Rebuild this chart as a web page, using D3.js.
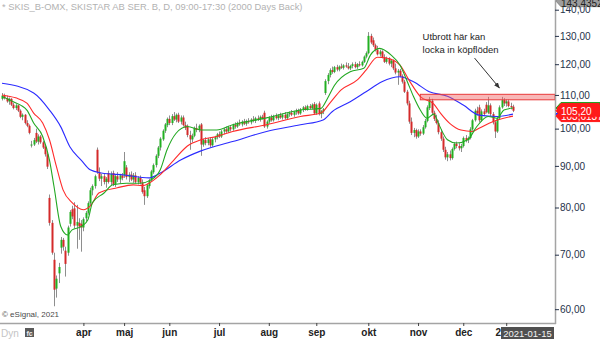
<!DOCTYPE html>
<html>
<head>
<meta charset="utf-8">
<script src="https://cdn.jsdelivr.net/npm/d3@7/dist/d3.min.js"></script>
<style>
  html, body { margin: 0; padding: 0; background: #fff; }
  svg { display: block; font-family: "Liberation Sans", Arial, Helvetica, sans-serif; }
</style>
</head>
<body>
<svg id="chart" width="600" height="339"></svg>
<script>
// SkiStar B, daily candles (SEK)
const open = [
  108.8,109.8,109.0,108.0,108.8,107.0,106.0,106.8,105.2,103.4,
  104.0,101.6,100.8,95.4,95.6,98.8,96.4,97.8,96.2,95.0,
  93.0,82.2,76.6,69.0,63.6,66.4,71.4,73.0,70.8,70.4,
  76.4,79.6,79.8,76.0,76.6,76.4,75.6,77.6,78.8,81.0,
  84.0,85.0,94.2,88.4,86.8,87.4,86.0,88.2,86.0,88.2,
  85.4,87.4,86.6,87.6,87.6,89.6,87.2,87.8,86.6,87.6,
  86.0,87.0,85.8,84.0,82.6,85.0,86.4,88.4,90.2,92.6,
  94.8,97.0,99.4,101.0,102.8,101.6,103.6,102.6,104.0,102.0,
  103.2,101.0,100.8,98.2,97.0,98.0,100.2,99.6,101.2,95.6,
  96.8,96.0,97.0,95.4,97.0,97.6,98.4,97.8,99.2,99.8,
  99.2,100.4,99.8,101.0,100.6,101.6,101.2,102.0,101.4,102.2,
  101.8,102.6,102.2,103.0,102.6,103.4,104.6,100.6,102.0,103.2,
  102.4,103.6,103.0,103.8,103.2,104.0,103.0,104.2,104.6,104.0,
  104.8,105.2,104.4,105.6,106.2,105.6,106.6,106.0,107.2,104.4,
  107.4,104.2,105.0,110.6,114.4,116.4,118.0,117.4,119.0,118.2,
  119.2,118.8,119.6,119.2,118.6,119.4,120.0,119.0,120.0,119.6,
  120.8,122.6,123.8,130.0,128.4,126.6,125.0,123.4,124.4,122.4,
  120.8,122.0,120.2,121.2,118.6,117.2,117.8,116.0,114.2,111.0,
  107.4,102.0,98.8,99.6,97.8,99.2,98.6,100.4,102.2,106.0,
  108.2,104.6,102.8,101.6,99.0,97.2,94.2,92.2,93.0,92.0,
  94.4,95.8,95.2,94.6,95.2,97.4,96.8,97.4,99.8,102.4,
  105.2,106.2,102.4,105.0,107.0,104.6,106.8,104.2,101.8,99.2,
  103.0,106.2,108.4,107.4,108.0,106.6,106.4
];
const high = [
  110.6,110.4,109.8,109.2,109.0,107.6,107.2,107.0,105.6,104.4,
  104.2,102.4,101.2,96.6,97.4,100.0,98.4,98.2,96.6,95.4,
  93.4,83.0,77.2,70.4,66.0,68.4,73.6,73.4,71.6,76.0,
  79.4,80.4,81.2,80.6,77.6,77.2,77.8,79.2,81.4,84.6,
  85.4,87.8,94.8,89.6,88.0,88.2,87.2,88.8,88.6,88.8,
  87.8,88.4,88.0,88.2,93.6,90.2,88.4,88.6,88.2,88.4,
  87.4,87.6,86.6,84.8,85.6,86.8,89.0,90.6,93.0,95.2,
  97.6,99.8,101.6,103.2,103.8,104.2,104.8,104.4,104.6,103.8,
  103.8,102.0,101.2,99.4,98.6,100.6,101.4,101.2,101.6,97.2,
  97.6,97.4,97.6,97.4,98.0,98.8,99.2,99.6,100.2,100.6,
  100.8,101.0,101.4,101.8,102.0,102.6,102.4,102.8,102.6,103.0,
  103.0,103.6,103.4,103.8,103.8,104.0,105.2,102.4,103.6,104.0,
  104.0,104.4,104.2,104.6,104.4,104.8,104.6,105.0,105.4,105.2,
  105.8,105.8,106.0,106.6,106.8,107.0,107.2,107.4,107.8,107.4,
  108.0,105.4,106.0,115.0,117.0,118.6,119.2,119.4,119.8,119.6,
  120.2,120.0,120.6,120.4,119.8,120.6,120.8,120.4,121.0,121.2,
  123.0,124.4,131.4,130.8,129.4,127.2,126.4,125.0,124.8,123.4,
  122.6,122.4,121.8,121.6,120.2,118.4,118.4,116.6,114.8,111.6,
  108.2,103.2,100.2,100.0,99.8,99.8,101.0,102.8,106.8,109.4,
  108.8,105.2,104.0,102.4,99.8,97.8,95.0,93.6,94.0,94.8,
  96.2,96.4,96.0,95.8,97.8,98.2,97.8,100.4,102.8,105.8,
  106.4,107.0,105.6,105.8,107.8,109.4,107.4,104.8,102.4,103.6,
  106.8,109.4,109.0,108.6,108.6,107.6,107.0
];
const low = [
  108.3,108.6,107.6,107.0,106.6,105.6,105.4,104.8,103.0,102.4,
  101.2,100.4,98.4,94.8,95.2,96.0,95.6,95.8,94.4,92.4,
  89.2,76.0,70.0,60.5,62.0,64.6,70.2,70.8,65.8,69.8,
  75.8,77.4,75.4,71.2,73.0,70.6,74.8,77.0,78.4,80.4,
  82.8,84.4,88.0,86.2,85.0,85.4,84.6,85.6,85.2,85.0,
  84.8,86.0,85.6,86.4,87.0,86.6,86.0,86.2,85.8,85.6,
  85.4,85.4,83.2,80.6,82.2,84.4,86.0,88.0,89.6,92.0,
  94.0,96.6,98.8,100.4,101.0,101.0,102.2,101.8,101.6,101.2,
  100.6,99.6,97.6,94.2,96.2,97.6,99.0,99.0,92.6,95.0,
  95.4,95.4,94.8,95.0,96.2,97.0,97.4,97.4,98.4,98.8,
  98.8,99.2,99.4,100.0,100.2,100.8,100.6,101.0,100.8,101.4,
  101.2,101.8,101.6,102.2,102.0,102.6,100.2,100.0,101.4,102.0,
  102.0,102.6,102.4,102.8,102.6,102.6,102.6,103.4,103.6,103.4,
  104.0,104.0,104.0,104.8,105.2,105.2,105.6,105.6,104.0,104.0,
  103.8,103.0,104.2,110.0,113.4,115.6,116.8,117.0,117.6,117.6,
  118.4,118.2,118.8,118.2,118.0,118.6,118.6,118.4,119.2,119.2,
  120.4,122.0,123.4,127.0,126.0,124.4,123.0,122.6,122.0,120.4,
  120.2,119.6,119.0,118.0,116.6,113.2,115.6,113.6,110.6,106.8,
  101.4,98.2,97.6,97.2,97.4,98.0,98.2,100.0,101.8,105.4,
  104.0,102.2,101.2,98.4,96.6,93.6,91.6,91.2,91.4,91.6,
  94.0,94.6,94.0,93.6,94.8,96.2,96.0,97.0,99.4,102.0,
  103.8,101.8,102.0,103.6,104.4,104.2,103.6,101.2,97.4,98.8,
  102.6,105.8,106.6,106.4,106.2,105.6,104.8
];
const close = [
  109.8,109.0,108.0,108.8,107.0,106.0,106.8,105.2,103.4,104.0,
  101.6,100.8,98.8,95.6,96.8,96.4,97.8,96.2,94.8,93.0,
  89.8,76.6,70.4,63.4,65.4,67.6,73.0,71.6,68.2,75.6,
  79.0,78.0,76.0,76.8,75.8,75.6,77.4,78.8,81.0,84.0,
  85.0,87.4,88.4,86.8,87.4,86.0,86.8,86.0,88.0,85.4,
  87.4,86.6,87.6,87.0,91.2,87.2,87.8,86.6,87.6,86.0,
  87.0,85.8,83.6,82.6,85.2,86.4,88.6,90.2,92.6,94.8,
  97.2,99.4,101.2,102.8,101.6,103.6,102.6,104.0,102.0,103.2,
  101.0,100.2,98.2,97.0,98.0,100.2,99.6,100.8,95.6,96.8,
  96.0,97.0,95.4,97.0,97.6,98.4,97.8,99.2,99.8,99.2,
  100.4,99.8,101.0,100.6,101.6,101.2,102.0,101.4,102.2,101.8,
  102.6,102.2,103.0,102.6,103.4,103.0,100.6,102.0,103.2,102.4,
  103.6,103.0,103.8,103.2,104.0,103.0,104.2,104.6,104.0,104.8,
  105.2,104.4,105.6,106.2,105.6,106.6,106.0,107.0,104.4,107.0,
  104.2,105.0,105.6,114.4,116.4,118.0,117.4,119.0,118.2,119.2,
  118.8,119.6,119.2,118.6,119.4,120.0,119.0,120.0,119.6,120.8,
  122.6,123.8,130.0,127.6,126.6,125.0,123.4,124.4,122.4,120.8,
  122.0,120.2,121.2,118.6,117.2,117.8,116.0,114.2,111.0,107.4,
  102.0,98.8,99.6,97.8,99.2,98.6,100.4,102.2,106.2,108.6,
  104.6,102.8,101.6,99.0,97.2,94.2,92.2,93.0,92.0,94.4,
  95.8,95.2,94.6,95.2,97.4,96.8,97.4,99.8,102.4,105.2,
  104.4,102.4,105.0,104.2,104.8,106.8,104.2,101.8,99.2,103.0,
  106.2,108.4,107.4,108.0,106.6,106.4,105.2
];

// Moving averages, [bar, value]
const maFast = [
  [0,109.5],[5,107.9],[11,105.4],[14,101.6],[18,97.8],[21,91.5],[23,84.9],[26,75.8],[29,74.0],
  [31,75.1],[35,75.8],[38,77.3],[40,81.1],[45,83.3],[49,85.3],[55,85.7],[61,85.7],[66,86.5],
  [70,89.0],[73,94.2],[77,98.7],[82,100.6],[88,99.6],[95,99.6],[102,101.1],[117,103.1],
  [132,105.4],[141,105.9],[144,109.0],[147,113.0],[154,117.5],[160,118.6],[163,123.2],
  [167,125.5],[172,123.2],[176,119.7],[179,114.7],[182,109.5],[185,105.4],[188,103.0],
  [191,104.2],[193,101.5],[197,96.9],[201,96.0],[206,96.9],[210,100.6],[215,103.5],
  [219,103.0],[222,105.4],[226,106.0]
];
const maMid = [
  [0,110.0],[6,109.1],[11,107.5],[14,104.5],[18,101.6],[21,96.9],[24,90.0],[27,84.1],[31,81.1],
  [36,79.5],[39,80.3],[43,83.4],[51,84.6],[58,85.3],[62,85.1],[69,87.3],[76,91.5],[82,95.2],
  [88,96.9],[95,97.8],[102,99.2],[117,101.1],[132,103.5],[141,104.5],[145,107.5],[150,111.6],
  [157,114.7],[161,118.0],[166,122.4],[170,122.1],[176,119.7],[180,114.7],[185,109.5],
  [191,107.2],[194,104.4],[198,101.5],[203,99.6],[208,99.2],[211,100.1],[217,102.0],
  [226,103.6137]
];
const maSlow = [
  [0,113.7],[14,110.6],[21,105.4],[26,100.5],[30,95.0],[35,91.5],[39,89.0],[44,88.2],[54,87.7],
  [65,87.0],[70,88.2],[79,91.5],[88,93.9],[102,96.4],[117,99.2],[132,101.1],[142,102.5],
  [146,104.9],[154,107.9],[161,111.0],[168,114.2],[176,115.8],[182,114.2],[189,111.0],
  [197,109.6],[204,106.9],[211,103.9],[219,103.5],[226,104.2]
];

// Axis labels and periods
const monthLabels = ["apr","maj","jun","jul","aug","sep","okt","nov","dec","2021"];
const monthStartBar = [36, 54, 74, 96, 118, 139, 162, 184, 204, 223];
const priceTicks = [60, 70, 80, 90, 100, 110, 120, 130, 140];
const priceRange = [57.7, 143.9];
const scaleTop = 143.4352;
const lastDate = "2021-01-15";

// Resistance zone and note
const zoneFromBar = 185;
const zoneLow = 108.5, zoneHigh = 110.2;
const noteLines = ["Utbrott här kan", "locka in köpflöden"];
const noteArrow = { fromBar: 209, fromPrice: 122.1, toBar: 220, toPrice: 112.2 };

const titleText = "* SKIS_B-OMX, SKISTAR AB SER. B, D, 09:00-17:30 (2000 Days Back)";

// ---------- drawing ----------
const svg = d3.select("#chart");
const plotRight = 555, plotBottom = 323;
const N = close.length;

const x = d3.scaleLinear().domain([0, N - 1]).range([2, 513]);
const y = d3.scaleLog().domain(priceRange).range([plotBottom, 0]);
const comma = (v, d) => d3.format("." + d + "f")(v).replace(".", ",");

// title
svg.append("text").attr("x", 2).attr("y", 10)
  .attr("font-size", 9.4).attr("fill", "#b2b2b2").text(titleText);

const plot = svg.append("g");
const bars = d3.range(N);

// wicks
plot.selectAll("line.wick").data(bars).join("line")
  .attr("class", "wick")
  .attr("x1", i => Math.round(x(i)) + 0.5).attr("x2", i => Math.round(x(i)) + 0.5)
  .attr("y1", i => y(high[i])).attr("y2", i => y(low[i]))
  .attr("stroke", "#8e8e8e").attr("stroke-width", 1);

// bodies
plot.selectAll("rect.body").data(bars).join("rect")
  .attr("class", "body")
  .attr("x", i => Math.round(x(i)) - 0.5)
  .attr("width", 2)
  .attr("y", i => y(Math.max(open[i], close[i])))
  .attr("height", i => Math.max(1, Math.abs(y(open[i]) - y(close[i]))))
  .attr("fill", i => close[i] >= open[i] ? "#22b022" : "#d42a2a");

// moving averages
const line = d3.line().x(d => x(d[0])).y(d => y(d[1])).curve(d3.curveMonotoneX);
[[maSlow, "#2b2bff"], [maMid, "#ff2b2b"], [maFast, "#22a822"]].forEach(([pts, c]) => {
  plot.append("path").datum(pts).attr("d", line)
    .attr("fill", "none").attr("stroke", c).attr("stroke-width", 1.1);
});

// resistance zone
plot.append("rect")
  .attr("x", x(zoneFromBar)).attr("y", y(zoneHigh))
  .attr("width", plotRight - x(zoneFromBar)).attr("height", y(zoneLow) - y(zoneHigh))
  .attr("fill", "rgba(240,95,95,0.45)").attr("stroke", "#e83a3a").attr("stroke-width", 1);

// note
const noteX = x(186);
noteLines.forEach((t, k) => {
  svg.append("text").attr("x", noteX).attr("y", y(128.5) + k * 12.5)
    .attr("font-size", 9.5).attr("fill", "#1e1e1e").text(t);
});
svg.append("defs").append("marker")
  .attr("id", "arrow").attr("viewBox", "0 0 10 10").attr("refX", 9).attr("refY", 5)
  .attr("markerWidth", 6).attr("markerHeight", 6).attr("orient", "auto")
  .append("path").attr("d", "M0,1 L10,5 L0,9 Z").attr("fill", "#333");
svg.append("line")
  .attr("x1", x(noteArrow.fromBar)).attr("y1", y(noteArrow.fromPrice))
  .attr("x2", x(noteArrow.toBar)).attr("y2", y(noteArrow.toPrice))
  .attr("stroke", "#333").attr("stroke-width", 1).attr("marker-end", "url(#arrow)");

// frame lines
svg.append("line").attr("x1", 0).attr("x2", plotRight + 1).attr("y1", plotBottom + 0.5).attr("y2", plotBottom + 0.5)
  .attr("stroke", "#a4a4a4").attr("stroke-width", 1.5);
svg.append("line").attr("x1", plotRight + 0.5).attr("x2", plotRight + 0.5).attr("y1", 0).attr("y2", plotBottom + 1)
  .attr("stroke", "#a4a4a4").attr("stroke-width", 1.5);

// price axis
const yAxis = d3.axisRight(y).tickValues(priceTicks).tickSize(4).tickPadding(1)
  .tickFormat(v => comma(v, 2));
const ya = svg.append("g").attr("transform", `translate(${plotRight},0)`).call(yAxis);
ya.select(".domain").remove();
ya.selectAll("line").attr("stroke", "#25324a");
ya.selectAll("text").attr("font-size", 10).attr("fill", "#25324a")
  .attr("font-family", '"Liberation Sans", Arial, sans-serif');

// time axis
const xAxis = d3.axisBottom(x).tickValues(monthStartBar).tickSize(3).tickPadding(3)
  .tickFormat((d, k) => monthLabels[k]);
const xa = svg.append("g").attr("transform", `translate(0,${plotBottom})`).call(xAxis);
xa.select(".domain").remove();
xa.selectAll("line").attr("stroke", "#444");
xa.selectAll("text").attr("font-size", 10).attr("font-weight", "bold").attr("fill", "#222")
  .attr("font-family", '"Liberation Sans", Arial, sans-serif');

// price tags (pointed boxes at the axis)
function tag(value, fill, stroke, text, textFill, textDy) {
  const cy = y(value), h = 5.5, tip = plotRight + 1;
  const g = svg.append("g");
  g.append("path")
    .attr("d", `M${tip},${cy} L${tip + 5},${cy - h} L600,${cy - h} L600,${cy + h} L${tip + 5},${cy + h} Z`)
    .attr("fill", fill).attr("stroke", stroke).attr("stroke-width", 1);
  if (text) {
    g.append("text").attr("x", tip + 5).attr("y", cy + (textDy || 3.8))
      .attr("font-size", 10).attr("fill", textFill).text(text);
  }
}
tag(scaleTop, "#9d9d9d", "#8a8a8a", comma(scaleTop, 4), "#222", 5.5);
const fastLast = maFast[maFast.length - 1][1];
const slowLast = maSlow[maSlow.length - 1][1];
const midLast = maMid[maMid.length - 1][1];
tag(fastLast, "#ff1a1a", "#20a020", null);
tag(slowLast, "#2b2bff", "#2b2bff", null);
tag(midLast, "#ff1a1a", "#ff1a1a", comma(midLast, 4), "#fff");
tag(close[N - 1], "#ff1a1a", "#ff1a1a", comma(close[N - 1], 2), "#fff");

// last date label
const dateG = svg.append("g");
dateG.append("rect").attr("x", 501).attr("y", 327).attr("width", 53).attr("height", 12).attr("fill", "#505050");
dateG.append("text").attr("x", 527.5).attr("y", 336.5).attr("text-anchor", "middle")
  .attr("font-size", 9.5).attr("fill", "#f2f2f2").text(lastDate);

// footer marks
svg.append("text").attr("x", 2).attr("y", 317).attr("font-size", 8).attr("fill", "#4a4a4a").text("© eSignal, 2021");
svg.append("text").attr("x", 1).attr("y", 337).attr("font-size", 10).attr("fill", "#c4c4c4").text("Dyn");
svg.append("rect").attr("x", 25).attr("y", 328).attr("width", 9).attr("height", 9).attr("fill", "#5a5a5a");
svg.append("text").attr("x", 26.5).attr("y", 335.5).attr("font-size", 7).attr("font-weight", "bold")
  .attr("fill", "#eee").text("fc");
</script>
</body>
</html>
